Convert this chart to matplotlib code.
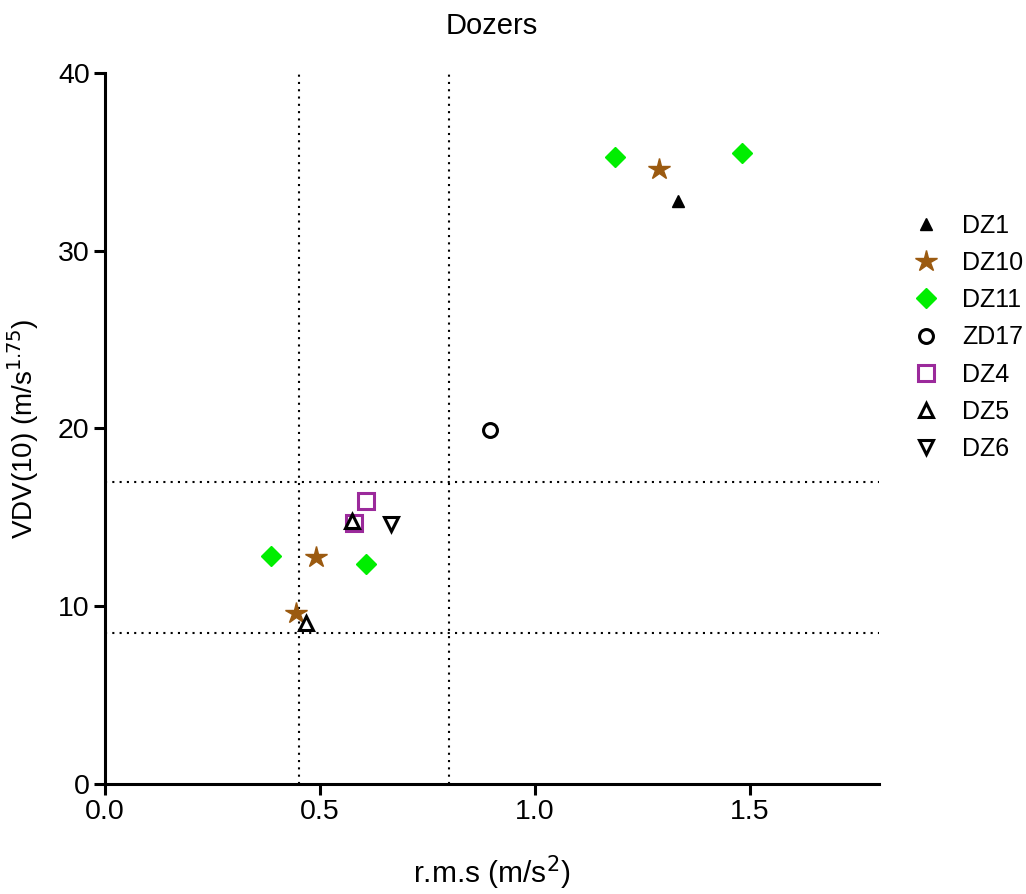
import matplotlib
matplotlib.use("Agg")
import matplotlib.pyplot as plt

plt.rcParams['font.family'] = ['Liberation Sans', 'DejaVu Sans']

series = ["DZ1", "DZ10", "DZ11", "ZD17", "DZ4", "DZ5", "DZ6"]
x_vals = {
    "DZ1": [1.333],
    "DZ10": [1.288, 0.491, 0.444],
    "DZ11": [1.186, 1.481, 0.386, 0.607],
    "ZD17": [0.895],
    "DZ4": [0.607, 0.579],
    "DZ5": [0.574, 0.467],
    "DZ6": [0.665],
}
y_vals = {
    "DZ1": [32.8],
    "DZ10": [34.6, 12.77, 9.6],
    "DZ11": [35.3, 35.5, 12.8, 12.4],
    "ZD17": [19.9],
    "DZ4": [15.9, 14.7],
    "DZ5": [14.8, 9.05],
    "DZ6": [14.6],
}
vlines = [0.45, 0.8]
hlines = [17.0, 8.5]
xticks = [0.0, 0.5, 1.0, 1.5]
xtick_labels = ["0.0", "0.5", "1.0", "1.5"]
yticks = [0, 10, 20, 30, 40]

styles = {
    "DZ1": dict(marker="^", color="black", mfc="black", ms=8.5),
    "DZ10": dict(marker="*", color="#9B5A10", mfc="#9B5A10", ms=16),
    "DZ11": dict(marker="D", color="#00EE00", mfc="#00EE00", ms=10),
    "ZD17": dict(marker="o", color="black", mfc="none", ms=10, mew=2.2),
    "DZ4": dict(marker="s", color="#9B2A9B", mfc="none", ms=11, mew=2.2),
    "DZ5": dict(marker="^", color="black", mfc="none", ms=10, mew=2.2),
    "DZ6": dict(marker="v", color="black", mfc="none", ms=10, mew=2.2),
}

fig = plt.figure(figsize=(10.26, 8.94), dpi=100)
ax = fig.add_axes([105/1026, 1-784/894, (879-105)/1026, (784-73)/894])

for v in vlines:
    ax.axvline(v, color="black", ls=(0, (1, 2.5)), lw=1.5, zorder=1)
for h in hlines:
    ax.axhline(h, color="black", ls=(0, (1, 2.5)), lw=1.5, zorder=1)

for s in series:
    st = styles[s]
    ax.plot(x_vals[s], y_vals[s], ls="none", label=s, zorder=3, **st)

ax.set_xlim(0, 1.8)
ax.set_ylim(0, 40)
ax.set_xticks(xticks)
ax.set_xticklabels(xtick_labels)
ax.set_yticks(yticks)
for sp in ["top", "right"]:
    ax.spines[sp].set_visible(False)
for sp in ["left", "bottom"]:
    ax.spines[sp].set_linewidth(2.2)
ax.tick_params(direction="out", width=2.2, length=8, labelsize=20.5, pad=3)

ax.set_xlabel("r.m.s (m/s$^2$)", fontsize=21.5, labelpad=20)
ax.set_ylabel("VDV(10) (m/s$^{1.75}$)", fontsize=20, labelpad=12)
ax.set_title("Dozers", fontsize=21, pad=28)

leg = ax.legend(loc="upper left", bbox_to_anchor=(1.012, 0.834), frameon=False,
                fontsize=18, handletextpad=0.85, labelspacing=0.53, handlelength=1.2)

fig.savefig("out.png", dpi=100)
